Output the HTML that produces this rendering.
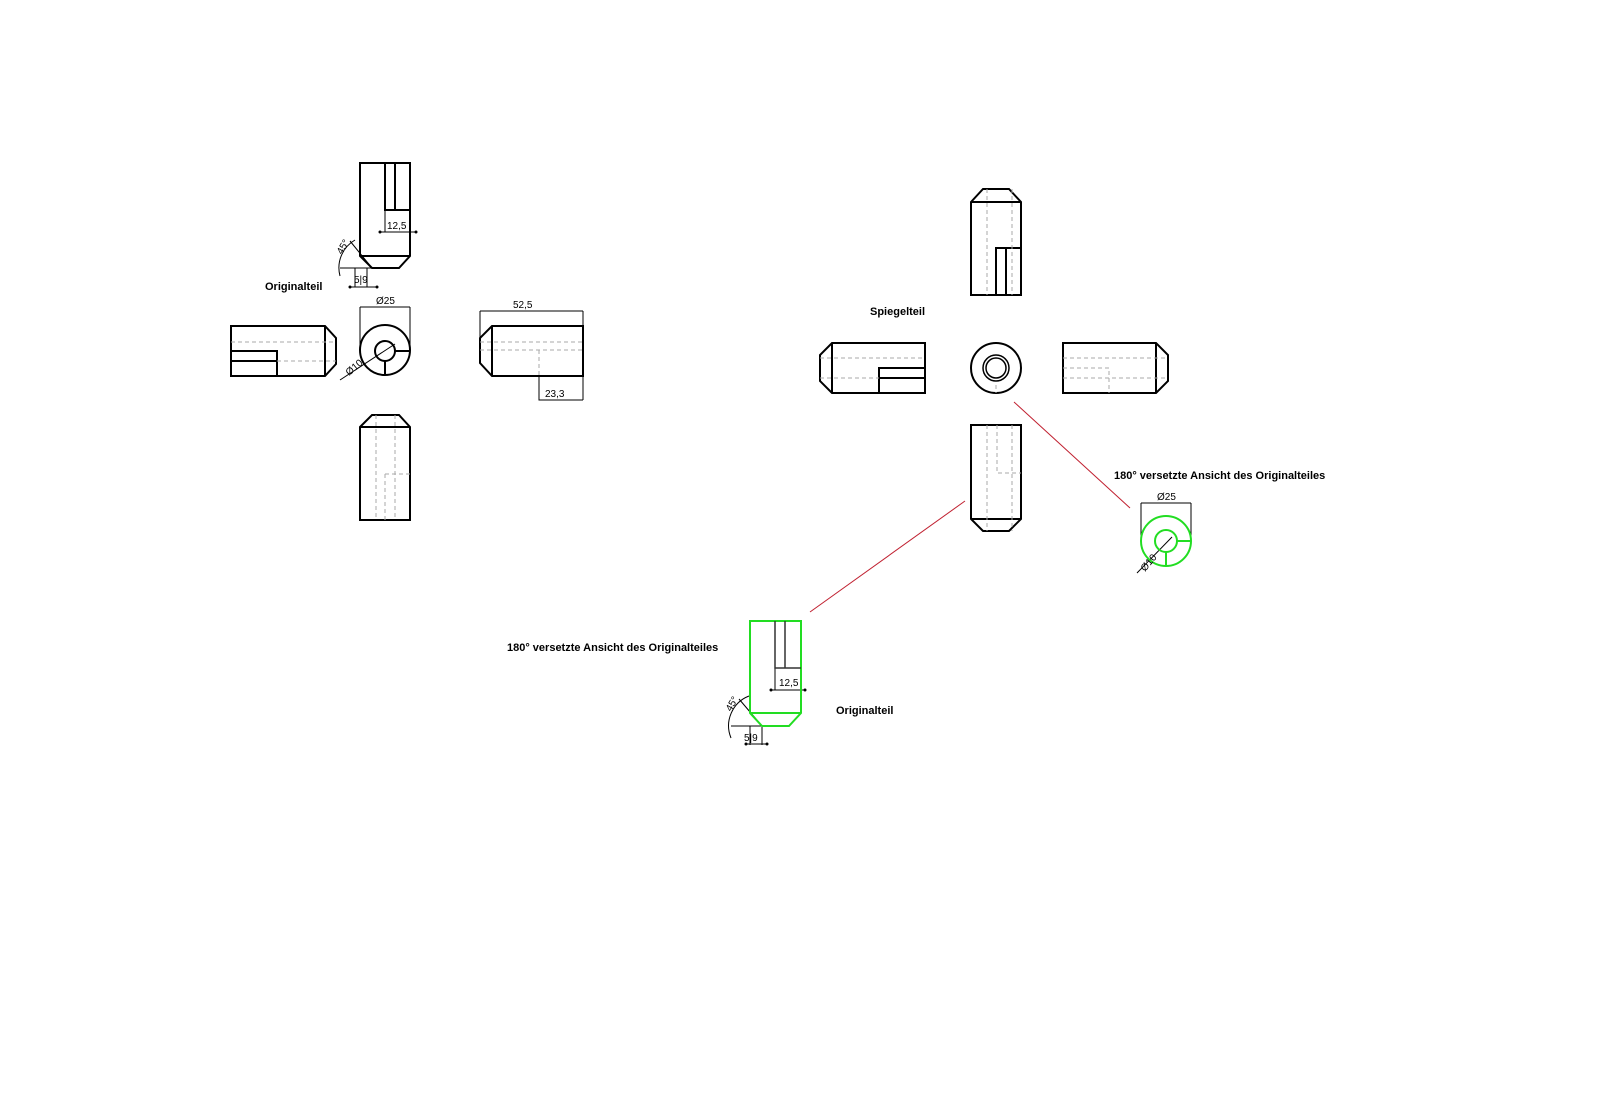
<!DOCTYPE html>
<html><head><meta charset="utf-8"><style>
html,body{margin:0;padding:0;background:#fff;width:1622px;height:1094px;overflow:hidden}
svg text{font-family:"Liberation Sans",Arial,sans-serif}
.t{font-size:11px;font-weight:bold}
.d{font-size:10px}
</style></head><body>
<svg width="1622" height="1094" viewBox="0 0 1622 1094" xmlns="http://www.w3.org/2000/svg">
<g fill="none" stroke="#000" stroke-width="2">
<path d="M360,163 H410 V256 L399,268 H372 L360,256 Z"/>
<path d="M360,256 H410"/>
<path d="M385,163 V210 H410 M395,163 V210"/>
<path d="M231,326 H325 L336,338 V364 L325,376 H231 Z M325,326 V376"/>
<path d="M231,351 H277 V376 M231,361 H277"/>
<circle cx="385" cy="350" r="25"/>
<circle cx="385" cy="351" r="10"/>
<path d="M395,351 H410 M385,361 V375"/>
<path d="M492,326 H583 V376 H492 L480,363 V338 Z M492,326 V376"/>
<path d="M360,427 L372,415 H399 L410,427 V520 H360 Z M360,427 H410"/>
<path d="M971,202 L983,189 H1009 L1021,202 V295 H971 Z M971,202 H1021"/>
<path d="M996,295 V248 H1021 M1006,248 V295"/>
<path d="M832,343 H925 V393 H832 L820,381 V355 Z M832,343 V393"/>
<path d="M879,393 V368 H925 M879,378 H925"/>
<circle cx="996" cy="368" r="25"/>
<circle cx="996" cy="368" r="13" stroke-width="1.5"/>
<circle cx="996" cy="368" r="10" stroke-width="1.5"/>
<path d="M1063,343 H1156 L1168,355 V381 L1156,393 H1063 Z M1156,343 V393"/>
<path d="M971,425 H1021 V519 L1009,531 H983 L971,519 Z M971,519 H1021"/>
</g>
<g fill="none" stroke="#aaa" stroke-width="1" stroke-dasharray="4,3">
<path d="M231,342 H336 M277,361 H336"/>
<path d="M480,342 H583 M480,350 H583 M539,350 V376"/>
<path d="M376,415 V520 M395,415 V520 M385,474 V520 M385,474 H410"/>
<path d="M987,189 V295 M1012,189 V295"/>
<path d="M820,358 H925 M820,378 H879"/>
<path d="M996,385 V393"/>
<path d="M1063,358 H1168 M1063,378 H1168 M1063,368 H1109 V393"/>
<path d="M987,425 V531 M1012,425 V531 M997,425 V473 H1021"/>
</g>
<g fill="none" stroke="#000" stroke-width="1">
<path d="M380,232 H416 M385,210 V232"/>
<path d="M350,241 L372,268 M340,268 H372 M367,268 V287 M355,268 V287 M350,287 H377"/>
<path d="M355,240 A32,32 0 0 0 340,276"/>
<path d="M360,307 H410 M360,307 V350 M410,307 V350"/>
<path d="M340,380 L395,344"/>
<path d="M480,311 H583 M480,311 V338 M583,311 V326"/>
<path d="M539,376 V400 H583 M583,376 V400"/>
<path d="M1141,503 H1191 M1141,503 V542 M1191,503 V541"/>
<path d="M1137,573 L1172,537"/>
<path d="M771,690 H805 M775,668 V690"/>
<path d="M739,699 L762,726 M731,726 H762 M762,726 V745 M750,726 V745 M746,744 H767"/>
<path d="M749,696 A32,32 0 0 0 731,738"/>
</g>
<g fill="#000">
<circle cx="380" cy="232" r="1.5"/><circle cx="416" cy="232" r="1.5"/>
<circle cx="350" cy="287" r="1.5"/><circle cx="377" cy="287" r="1.5"/>
<circle cx="771" cy="690" r="1.5"/><circle cx="805" cy="690" r="1.5"/>
<circle cx="746" cy="744" r="1.5"/><circle cx="767" cy="744" r="1.5"/>
</g>
<g fill="none" stroke="#22dd22" stroke-width="2">
<path d="M750,621 H801 V713 L789,726 H762 L750,713 Z M750,713 H801"/>
<circle cx="1166" cy="541" r="25"/>
<circle cx="1166" cy="541" r="11"/>
<path d="M1177,541 H1191 M1166,552 V566"/>
</g>
<path d="M775,621 V668 H801 M785,621 V668" fill="none" stroke="#333" stroke-width="1.5"/>
<g stroke="#c02030" stroke-width="1">
<path d="M1014,402 L1130,508"/>
<path d="M965,501 L810,612"/>
</g>
<text class="t" x="265" y="290">Originalteil</text>
<text class="t" x="870" y="315">Spiegelteil</text>
<text class="t" x="1114" y="479">180° versetzte Ansicht des Originalteiles</text>
<text class="t" x="507" y="651">180° versetzte Ansicht des Originalteiles</text>
<text class="t" x="836" y="714">Originalteil</text>
<text class="d" x="387" y="229">12,5</text>
<text class="d" x="354" y="283">5|9</text>
<text class="d" x="376" y="304">Ø25</text>
<text class="d" x="513" y="308">52,5</text>
<text class="d" x="545" y="397">23,3</text>
<text class="d" transform="translate(349,376) rotate(-40)">Ø10</text>
<text class="d" transform="translate(342,255) rotate(-60)">45°</text>
<text class="d" x="1157" y="500">Ø25</text>
<text class="d" transform="translate(1145,572) rotate(-50)">Ø10</text>
<text class="d" x="779" y="686">12,5</text>
<text class="d" x="744" y="741">5|9</text>
<text class="d" transform="translate(731,712) rotate(-60)">45°</text>
</svg>
</body></html>
